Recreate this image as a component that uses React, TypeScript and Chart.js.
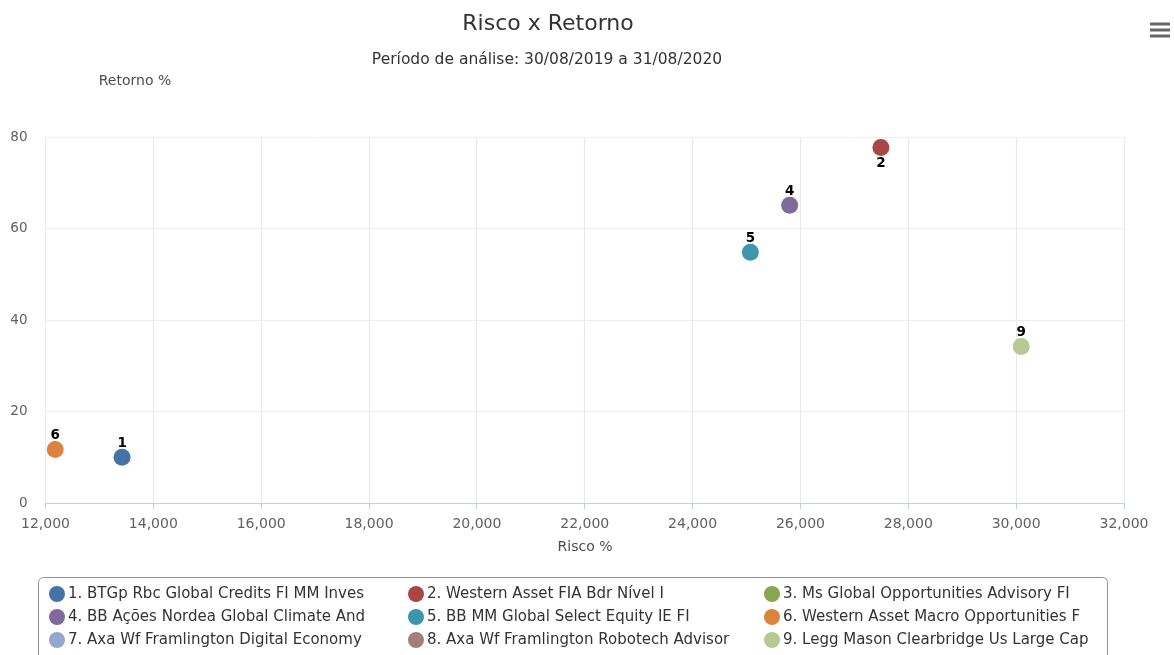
import React, { useEffect, useRef } from "react";
import { Chart, registerables } from "chart.js";

Chart.register(...registerables);

const chartTitle = "Risco x Retorno";
const chartSubtitle = "Período de análise: 30/08/2019 a 31/08/2020";
const xAxisTitle = "Risco %";
const yAxisTitle = "Retorno %";

const fundNames = [
  "1. BTGp Rbc Global Credits FI MM Inves",
  "2. Western Asset FIA Bdr Nível I",
  "3. Ms Global Opportunities Advisory FI",
  "4. BB Ações Nordea Global Climate And",
  "5. BB MM Global Select Equity IE FI",
  "6. Western Asset Macro Opportunities F",
  "7. Axa Wf Framlington Digital Economy",
  "8. Axa Wf Framlington Robotech Advisor",
  "9. Legg Mason Clearbridge Us Large Cap",
];
const pointLabels = ["1", "2", "3", "4", "5", "6", "7", "8", "9"];
const fundColors = [
  "#4572A7",
  "#AA4643",
  "#89A54E",
  "#80699B",
  "#3D96AE",
  "#DB843D",
  "#92A8CD",
  "#A47D7C",
  "#B5CA92",
];
const riskValues: (number | null)[] = [13420, 27492, null, 25800, 25071, 12180, null, null, 30094];
const returnValues: (number | null)[] = [10.0, 77.7, null, 65.1, 54.8, 11.7, null, null, 34.2];

const xMin = 12000;
const xMax = 32000;
const xStep = 2000;
const yMin = 0;
const yMax = 80;
const yStep = 20;

const FONT = "'DejaVu Sans', sans-serif";

const extrasPlugin = {
  id: "extras",
  afterDatasetsDraw(chart: any) {
    const ctx = chart.ctx;
    const area = chart.chartArea;
    ctx.save();
    ctx.font = `bold 13.5px ${FONT}`;
    ctx.fillStyle = "#000";
    ctx.textAlign = "center";
    ctx.textBaseline = "middle";
    chart.data.datasets.forEach((ds: any, i: number) => {
      const meta = chart.getDatasetMeta(i);
      meta.data.forEach((el: any) => {
        let y = el.y - 14;
        if (y - 6 < area.top) y = el.y + 16;
        ctx.fillText(pointLabels[i], el.x, y);
      });
    });
    ctx.restore();
  },
  afterDraw(chart: any) {
    const ctx = chart.ctx;
    ctx.save();
    ctx.textAlign = "center";
    ctx.textBaseline = "middle";
    ctx.fillStyle = "#333";
    ctx.font = `22px ${FONT}`;
    ctx.fillText(chartTitle, 548, 24);
    ctx.font = `15.5px ${FONT}`;
    ctx.fillText(chartSubtitle, 547, 60);
    ctx.fillStyle = "#4d4d4d";
    ctx.font = `14px ${FONT}`;
    ctx.fillText(yAxisTitle, 135, 81);
    ctx.fillText(xAxisTitle, 585, 547);

    // menu icon
    ctx.fillStyle = "#666";
    [24, 30, 36].forEach((yy) => {
      ctx.fillRect(1150, yy - 1.5, 20, 3);
    });

    // legend box
    ctx.strokeStyle = "#909090";
    ctx.lineWidth = 1;
    ctx.beginPath();
    ctx.roundRect(38.5, 577.5, 1069, 100, 5);
    ctx.stroke();

    const colX = [57, 416, 772];
    const rowY = [594, 617, 640];
    ctx.textAlign = "left";
    ctx.font = `15px ${FONT}`;
    fundNames.forEach((name, i) => {
      const cx = colX[i % 3];
      const cy = rowY[Math.floor(i / 3)];
      ctx.fillStyle = fundColors[i];
      ctx.beginPath();
      ctx.arc(cx, cy, 8, 0, Math.PI * 2);
      ctx.fill();
      ctx.fillStyle = "#333";
      ctx.fillText(name, cx + 11, cy);
    });
    ctx.restore();
  },
};

export default function App() {
  const ref = useRef<HTMLCanvasElement | null>(null);
  useEffect(() => {
    if (!ref.current) return;
    const datasets = fundNames.map((name, i) => ({
      label: name,
      data:
        riskValues[i] !== null && returnValues[i] !== null
          ? [{ x: riskValues[i] as number, y: returnValues[i] as number }]
          : [],
      backgroundColor: fundColors[i],
      borderColor: fundColors[i],
      pointRadius: 8.5,
      pointHoverRadius: 8.5,
      borderWidth: 0,
    }));
    const chart = new Chart(ref.current, {
      type: "scatter",
      data: { datasets },
      options: {
        responsive: false,
        animation: false,
        events: [],
        layout: { padding: { top: 137, left: 0, right: 50, bottom: 112 } },
        plugins: {
          legend: { display: false },
          tooltip: { enabled: false },
          title: { display: false },
        },
        scales: {
          x: {
            type: "linear",
            min: xMin,
            max: xMax,
            afterFit: (s: any) => {
              s.height = 40;
            },
            ticks: {
              stepSize: xStep,
              color: "#606060",
              font: { family: FONT, size: 14 },
              padding: 7,
              maxRotation: 0,
              callback: (v: any) => Number(v).toLocaleString("en-US"),
            },
            grid: {
              color: "#e6e8ef",
              tickColor: "#C0D0E0",
              tickLength: 6,
            },
            border: { color: "#C0D0E0", width: 1 },
          },
          y: {
            type: "linear",
            min: yMin,
            max: yMax,
            afterFit: (s: any) => {
              s.width = 45.5;
            },
            ticks: {
              stepSize: yStep,
              color: "#606060",
              font: { family: FONT, size: 13.5 },
              padding: 18,
            },
            grid: { color: "#eeeeee", drawTicks: false },
            border: { display: false },
          },
        },
      },
      plugins: [extrasPlugin],
    });
    return () => chart.destroy();
  }, []);
  return (
    <div style={{ position: "absolute", left: 0, top: 0, width: 1174, height: 655, background: "#fff" }}>
      <canvas ref={ref} width={1174} height={655} />
    </div>
  );
}
